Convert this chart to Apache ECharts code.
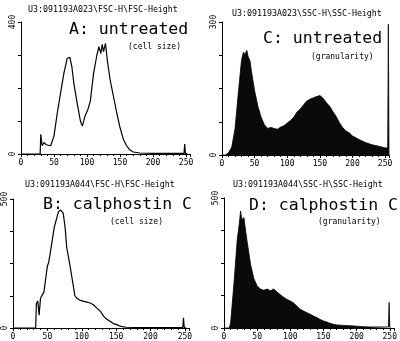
<!DOCTYPE html>
<html>
<head>
<meta charset="utf-8">
<script src="https://cdn.jsdelivr.net/npm/echarts@6/dist/echarts.min.js"></script>
<style>
html,body{margin:0;padding:0;background:#fff;}
#c{width:400px;height:341px;}
</style>
</head>
<body>
<div id="c"></div>
<script>
// Panel A: untreated, FSC (cell size)
var aChannels = [0, 29, 30, 32, 35, 38, 41, 45, 50, 55, 60, 65, 70, 74, 77, 80, 85, 90, 93, 97, 101, 105, 110, 115, 118, 121, 123, 125, 128, 131, 135, 140, 145, 150, 155, 160, 165, 170, 180, 200, 220, 240, 247, 248, 249, 252];
var aCounts   = [0, 0, 60, 25, 35, 28, 32, 25, 55, 125, 185, 245, 290, 293, 265, 215, 155, 100, 85, 115, 133, 160, 245, 300, 325, 305, 332, 310, 335, 280, 225, 175, 125, 80, 45, 25, 12, 6, 3, 2, 2, 2, 2, 30, 2, 1];
// Panel B: calphostin C, FSC (cell size)
var bChannels = [0, 33, 34, 36, 38, 40, 45, 50, 52, 55, 60, 63, 66, 69, 71, 73, 76, 78, 83, 87, 90, 93, 98, 103, 108, 112, 117, 122, 127, 132, 136, 141, 146, 151, 156, 161, 165, 175, 200, 225, 247, 248, 249, 252];
var bCounts   = [0, 0, 95, 105, 50, 115, 140, 240, 255, 305, 390, 420, 450, 458, 462, 445, 385, 315, 240, 175, 125, 115, 107, 103, 100, 97, 90, 77, 65, 45, 35, 26, 17, 13, 7, 4, 3, 2, 2, 2, 2, 40, 2, 1];
// Panel C: untreated, SSC (granularity)
var cChannels = [0, 5, 10, 15, 20, 25, 30, 33, 35, 38, 40, 43, 45, 50, 55, 60, 65, 70, 75, 80, 85, 90, 95, 100, 105, 110, 115, 120, 125, 130, 135, 140, 145, 150, 155, 160, 165, 170, 175, 180, 185, 190, 195, 200, 210, 220, 230, 240, 250, 254, 255, 256];
var cCounts   = [0, 0, 5, 18, 60, 140, 215, 232, 226, 236, 222, 212, 190, 145, 110, 85, 68, 60, 62, 60, 58, 63, 66, 72, 78, 85, 97, 104, 113, 122, 126, 129, 132, 134, 128, 118, 110, 98, 87, 73, 62, 54, 50, 43, 35, 28, 23, 20, 16, 16, 295, 0];
// Panel D: calphostin C, SSC (granularity)
var dChannels = [0, 8, 10, 15, 20, 23, 25, 27, 30, 33, 35, 40, 45, 50, 55, 60, 65, 70, 75, 80, 85, 90, 95, 100, 105, 110, 115, 120, 125, 130, 135, 140, 145, 150, 155, 160, 165, 170, 180, 190, 200, 210, 220, 248, 249, 250, 251];
var dCounts   = [0, 0, 20, 170, 340, 400, 450, 415, 425, 366, 330, 245, 190, 162, 150, 145, 150, 143, 150, 138, 128, 118, 110, 104, 96, 84, 72, 65, 59, 53, 46, 40, 33, 27, 23, 18, 14, 12, 10, 9, 7, 5, 4, 4, 98, 4, 0];

var xTicks = [0, 50, 100, 150, 200, 250];
var yMax = [400, 500, 300, 500]; // A, B, C, D

var headers = ['U3:091193A023\\FSC-H\\FSC-Height', 'U3:091193A044\\FSC-H\\FSC-Height', 'U3:091193A023\\SSC-H\\SSC-Height', 'U3:091193A044\\SSC-H\\SSC-Height'];
var titles = ['A: untreated', 'B: calphostin C', 'C: untreated', 'D: calphostin C'];
var notes = ['(cell size)', '(cell size)', '(granularity)', '(granularity)'];

function pairs(ch, v){ return ch.map(function(c,i){ return [c, v[i]]; }); }

var mono = '"DejaVu Sans Mono", "Liberation Mono", monospace';
var grids = [
  {left:21, top:22, width:169, height:132},
  {left:13, top:199, width:176, height:129},
  {left:222, top:22, width:167, height:133},
  {left:224, top:198, width:171, height:131}
];
var xAxes = [], yAxes = [], series = [];
var datasets = [pairs(aChannels,aCounts), pairs(bChannels,bCounts), pairs(cChannels,cCounts), pairs(dChannels,dCounts)];
for (var i=0;i<4;i++){
  xAxes.push({
    type:'value', gridIndex:i, min:0, max:256, interval:50,
    axisLine:{lineStyle:{color:'#000', width:1}},
    axisTick:{show:true, length:3, lineStyle:{color:'#000'}},
    minorTick:{show:true, splitNumber:5, length:2, lineStyle:{color:'#000'}},
    splitLine:{show:false},
    axisLabel:{color:'#000', fontSize:8, fontFamily:mono, margin:5,
      formatter:function(v){ return xTicks.indexOf(v) >= 0 ? String(v) : ''; }}
  });
  (function(m){
    yAxes.push({
      type:'value', gridIndex:i, min:0, max:m, interval:m/4,
      axisLine:{show:true, lineStyle:{color:'#000', width:1}},
      axisTick:{show:true, length:3, lineStyle:{color:'#000'}},
      splitLine:{show:false},
      axisLabel:{color:'#000', fontSize:8, fontFamily:mono, margin:4, rotate:90,
        formatter:function(v){ return (v===0 || v===m) ? String(v) : ''; }}
    });
  })(yMax[i]);
  var filled = (i>=2);
  series.push({
    type:'line', xAxisIndex:i, yAxisIndex:i, data:datasets[i],
    showSymbol:false, symbol:'none', animation:false,
    lineStyle:{color:'#000', width: filled ? 0.8 : 1.2},
    areaStyle: filled ? {color:'#0a0a0a', opacity:1} : null
  });
}

var graphic = [];
var hdrPos = [[28,10],[25,185],[232,14],[233,185]];
var ttlPos = [[69,30],[43,205],[263,39],[249,206]];
var notePos = [[128,47],[110,222],[311,57],[318,222]];
for (var k=0;k<4;k++){
  graphic.push({type:'text', x:hdrPos[k][0], y:hdrPos[k][1], style:{text:headers[k], font:'8.3px '+mono, fill:'#000', verticalAlign:'middle', align:'left'}});
  graphic.push({type:'text', x:ttlPos[k][0], y:ttlPos[k][1], style:{text:titles[k], font:'16.5px '+mono, fill:'#000', verticalAlign:'middle', align:'left'}});
  graphic.push({type:'text', x:notePos[k][0], y:notePos[k][1], style:{text:notes[k], font:'8px '+mono, fill:'#000', verticalAlign:'middle', align:'left'}});
}

var chart = echarts.init(document.getElementById('c'), null, {renderer:'canvas'});
chart.setOption({
  animation:false,
  backgroundColor:'#fff',
  grid:grids, xAxis:xAxes, yAxis:yAxes, series:series, graphic:graphic
});
</script>
</body>
</html>
